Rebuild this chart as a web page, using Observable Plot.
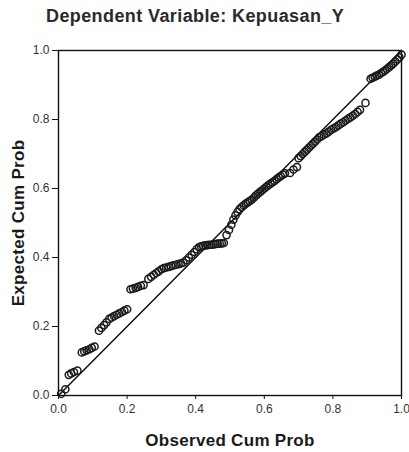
<!DOCTYPE html>
<html>
<head>
<meta charset="utf-8">
<script src="https://cdn.jsdelivr.net/npm/d3@7"></script>
<script src="https://cdn.jsdelivr.net/npm/@observablehq/plot@0.6"></script>
<style>
  body { margin: 0; background: #fff; font-family: "Liberation Sans", Arial, sans-serif; }
  #wrap { position: relative; width: 409px; height: 452px; }
  #title { position: absolute; left: 46px; top: 6px; font-size: 18px; font-weight: bold; color: #2a2a2a; letter-spacing: 0.4px; white-space: nowrap; }
  #chart { position: absolute; left: 0; top: 36px; }
  g[aria-label="x-axis label"] text, g[aria-label="y-axis label"] text { font-size: 17px; font-weight: bold; fill: #1a1a1a; letter-spacing: 0.3px; }
  g[aria-label="x-axis tick label"] text, g[aria-label="y-axis tick label"] text { font-size: 12px; fill: #333; }
</style>
</head>
<body>
<div id="wrap">
  <div id="title">Dependent Variable: Kepuasan_Y</div>
  <div id="chart"></div>
</div>
<script>
const titleText = "Dependent Variable: Kepuasan_Y";
const xLabel = "Observed Cum Prob";
const yLabel = "Expected Cum Prob";
const tickValues = [0, 0.2, 0.4, 0.6, 0.8, 1.0];

// Observed cumulative probability (x) and expected cumulative probability (y)
const observed = [
  0.008, 0.02,
  0.03, 0.037, 0.045, 0.055,
  0.068, 0.075, 0.082, 0.09, 0.097, 0.105,
  0.118, 0.125, 0.133, 0.14,
  0.148, 0.155, 0.162, 0.17, 0.177, 0.185, 0.192, 0.20,
  0.21, 0.217, 0.225, 0.232, 0.24, 0.248,
  0.262, 0.27, 0.278, 0.285, 0.292,
  0.30, 0.307, 0.314, 0.321, 0.328, 0.335, 0.342, 0.35, 0.357, 0.364,
  0.372, 0.38, 0.388, 0.396, 0.403,
  0.41, 0.416, 0.422, 0.428, 0.434, 0.44, 0.446, 0.452, 0.458, 0.464, 0.47, 0.476, 0.482,
  0.49, 0.497, 0.504, 0.51, 0.516, 0.522, 0.528, 0.534, 0.54, 0.546, 0.552, 0.558, 0.564, 0.57, 0.576, 0.582, 0.588, 0.594, 0.60, 0.606, 0.612, 0.618, 0.624, 0.63, 0.636, 0.642, 0.648, 0.654, 0.66,
  0.675, 0.685, 0.695,
  0.70, 0.706, 0.712, 0.718, 0.724, 0.73, 0.736, 0.742, 0.748, 0.754,
  0.76, 0.767, 0.774, 0.781, 0.788, 0.795, 0.802, 0.809, 0.816, 0.823, 0.83, 0.837, 0.844, 0.851, 0.858, 0.865, 0.872, 0.879,
  0.895,
  0.91, 0.916, 0.922, 0.928, 0.934, 0.94, 0.946, 0.952, 0.958, 0.964, 0.97, 0.976, 0.982, 0.988, 0.994, 1.00
];
const expected = [
  0.005, 0.018,
  0.060, 0.064, 0.068, 0.072,
  0.125, 0.128, 0.131, 0.134, 0.138, 0.142,
  0.188, 0.196, 0.204, 0.212,
  0.222, 0.226, 0.230, 0.234, 0.238, 0.242, 0.246, 0.250,
  0.308, 0.310, 0.312, 0.315, 0.318, 0.320,
  0.338, 0.344, 0.350, 0.355, 0.360,
  0.366, 0.369, 0.371, 0.373, 0.375, 0.377, 0.379, 0.381, 0.383, 0.385,
  0.392, 0.400, 0.408, 0.416, 0.424,
  0.430, 0.432, 0.434, 0.435, 0.436, 0.437, 0.437, 0.438, 0.439, 0.440, 0.440, 0.441, 0.442,
  0.465, 0.480, 0.495, 0.510, 0.522, 0.532, 0.540, 0.546, 0.551, 0.556, 0.560, 0.564, 0.568, 0.574, 0.580, 0.585, 0.590, 0.595, 0.600, 0.605, 0.610, 0.614, 0.618, 0.622, 0.627, 0.632, 0.636, 0.640, 0.644,
  0.645, 0.655, 0.662,
  0.688, 0.694, 0.700, 0.706, 0.712, 0.718, 0.724, 0.730, 0.736, 0.742,
  0.748, 0.752, 0.756, 0.760, 0.765, 0.770, 0.774, 0.778, 0.783, 0.788, 0.792, 0.797, 0.802, 0.806, 0.811, 0.816, 0.822, 0.828,
  0.848,
  0.918, 0.921, 0.924, 0.927, 0.930, 0.934, 0.938, 0.942, 0.947, 0.952, 0.957, 0.962, 0.968, 0.974, 0.980, 0.988
];
const refLine = [0, 1];

const points = observed.map((x, i) => ({x, y: expected[i]}));
const diag = refLine.map(v => ({x: v, y: v}));

const chart = Plot.plot({
  width: 409,
  height: 416,
  marginTop: 14,
  marginLeft: 58,
  marginRight: 8,
  marginBottom: 57,
  style: {fontFamily: "'Liberation Sans', Arial, sans-serif", fontSize: "12px", color: "#333", background: "transparent"},
  x: {domain: [0, 1]},
  y: {domain: [0, 1]},
  marks: [
    Plot.frame({stroke: "#111", strokeWidth: 1.4}),
    Plot.axisY({ticks: tickValues, tickFormat: d3.format(".1f"), tickSize: 6, tickPadding: 3, label: yLabel, labelAnchor: "center", labelOffset: 47, labelArrow: "none", stroke: "#111"}),
    Plot.axisX({ticks: tickValues, tickFormat: d3.format(".1f"), tickSize: 4, tickPadding: 5, label: xLabel, labelAnchor: "center", labelOffset: 50, labelArrow: "none", stroke: "#111"}),
    Plot.line(diag, {x: "x", y: "y", stroke: "#111", strokeWidth: 1.5}),
    Plot.dot(points, {x: "x", y: "y", r: 3.6, stroke: "#1a1a1a", strokeWidth: 1.5, fill: "none"})
  ]
});
document.getElementById("chart").appendChild(chart);
</script>
</body>
</html>
